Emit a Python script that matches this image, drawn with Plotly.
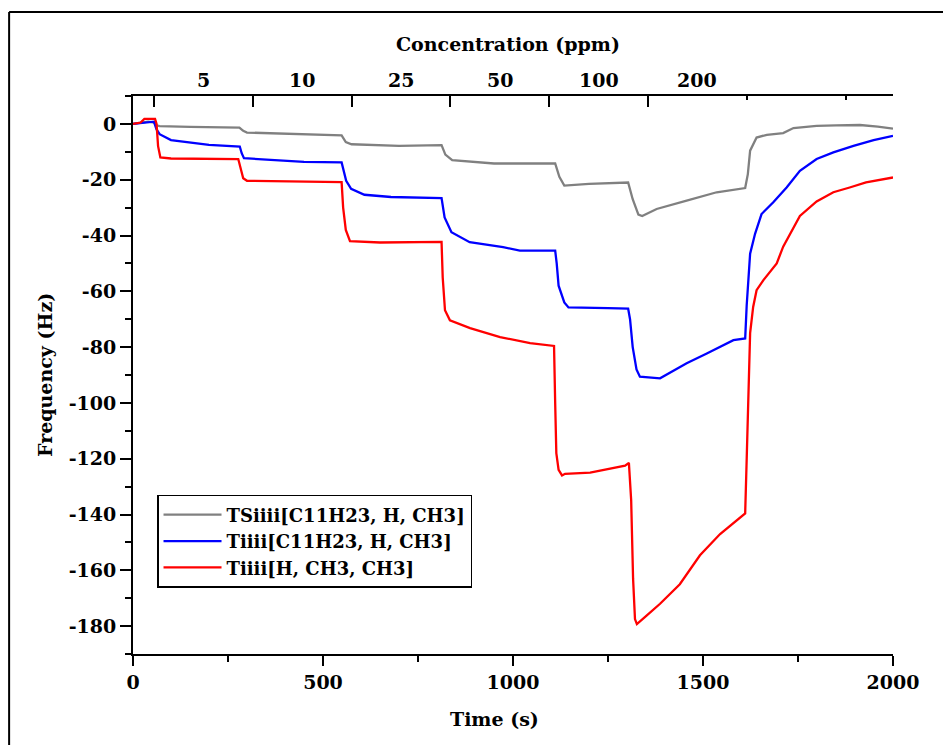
import plotly.graph_objects as go

# ---------------- data ----------------
gray_t = [0, 20, 40, 55, 62, 70, 150, 280, 290, 300, 400, 549, 560, 575, 700, 812, 822, 840, 950,
          1111, 1122, 1135, 1200, 1303, 1315, 1330, 1340, 1378, 1457, 1536, 1611, 1618, 1624, 1641,
          1668, 1711, 1738, 1799, 1850, 1913, 1960, 2000]
gray_y = [0, 0.3, 0.8, 0.5, -0.5, -0.8, -1.1, -1.3, -2.5, -3.1, -3.6, -4.1, -6.5, -7.3, -7.9, -7.6, -11, -13, -14.2,
          -14.2, -19, -22.1, -21.5, -21, -27, -32.5, -33, -30.5, -27.5, -24.5, -23, -18, -9.6, -4.9,
          -3.9, -3.3, -1.5, -0.7, -0.5, -0.4, -1.0, -1.7]

blue_t = [0, 30, 55, 62, 70, 100, 150, 200, 281, 286, 292, 387, 450, 549, 561, 574, 609, 679, 812, 820,
          838, 886, 974, 1018, 1111, 1115, 1120, 1135, 1146, 1250, 1303, 1308, 1315, 1325, 1334, 1387,
          1457, 1510, 1580, 1611, 1615, 1624, 1637, 1654, 1685, 1720, 1755, 1799, 1843, 1896, 1949, 2000]
blue_y = [0, 0.5, 0.8, -2, -3.7, -5.8, -6.7, -7.5, -8.1, -10.5, -12.3, -13.2, -13.6, -13.8, -20.4, -23.3, -25.4, -26.2, -26.6, -33.5,
          -38.8, -42.4, -44.2, -45.4, -45.4, -50, -58, -64, -65.8, -66, -66.2, -70, -80, -88, -90.6, -91.2,
          -85.8, -82.3, -77.5, -76.9, -65, -46.5, -39.4, -32.3, -28.1, -22.8, -16.8, -12.6, -10.2, -7.9, -5.8, -4.3]

red_t = [0, 20, 30, 58, 62, 66, 72, 100, 277, 283, 290, 300, 400, 549, 553, 560, 571, 650, 812, 815,
         821, 834, 887, 966, 1045, 1108, 1111, 1114, 1120, 1129, 1137, 1203, 1295, 1305, 1311, 1316,
         1321, 1326, 1347, 1387, 1439, 1492, 1545, 1597, 1611, 1615, 1620, 1624, 1632, 1641, 1659,
         1676, 1694, 1711, 1738, 1755, 1799, 1843, 1886, 1929, 2000]
red_y = [0, 0.5, 1.8, 1.8, 0, -8, -12, -12.4, -12.6, -16, -19.5, -20.4, -20.7, -20.9, -30, -38, -42, -42.5, -42.3, -55,
         -66.8, -70.4, -73.2, -76.4, -78.6, -79.6, -100, -118, -124, -126, -125.4, -125, -122.5, -121.5, -135, -163,
         -177.5, -179.3, -176.8, -172, -165, -154.6, -147, -141, -139.6, -120, -99, -75, -65.6, -59.6, -56,
         -53, -50, -44, -37, -33, -27.8, -24.5, -22.8, -21, -19.2]

series_names = ["TSiiii[C11H23, H, CH3]", "Tiiii[C11H23, H, CH3]", "Tiiii[H, CH3, CH3]"]
series_colors = ["#808080", "#0000FF", "#FF0000"]

conc_labels = ["5", "10", "25", "50", "100", "200"]
conc_bounds = [55, 315, 575, 835, 1095, 1355, 1615]
conc_extra_ticks = [1615, 1875]

y_tickvals = [0, -20, -40, -60, -80, -100, -120, -140, -160, -180]
y_ticktext = ["0", "-20", "-40", "-60", "-80", "-100", "-120", "-140", "-160", "-180"]

# ---------------- figure ----------------
FONT = "DejaVu Serif"
fig = go.Figure()
for t, y, name, col in zip([gray_t, blue_t, red_t], [gray_y, blue_y, red_y], series_names, series_colors):
    fig.add_trace(go.Scatter(x=t, y=y, mode="lines", name=name,
                             line=dict(color=col, width=2.3)))

# dummy trace to activate top axis
fig.add_trace(go.Scatter(x=conc_bounds, y=[None] * len(conc_bounds), xaxis="x2",
                         showlegend=False, hoverinfo="skip", mode="lines"))

tickfont = dict(family=FONT, size=19, color="black", weight="bold")

fig.update_layout(
    width=943, height=745,
    margin=dict(l=133, r=50, t=96, b=91),
    paper_bgcolor="white", plot_bgcolor="white",
    xaxis=dict(range=[0, 2000], dtick=500, tick0=0, ticks="outside", ticklen=10, tickwidth=2,
               tickcolor="black", showline=True, linewidth=2, linecolor="black",
               showgrid=False, zeroline=False, tickfont=tickfont, automargin=False,
               minor=dict(dtick=250, tick0=0, ticks="outside", ticklen=6, tickwidth=2, tickcolor="black")),
    xaxis2=dict(range=[0, 2000], overlaying="x", side="top", anchor="y",
                tickmode="array", tickvals=conc_bounds[:-1], ticktext=[""] * (len(conc_bounds) - 1),
                ticks="inside", ticklen=11, tickwidth=2, tickcolor="black",
                showline=True, linewidth=2, linecolor="black", showgrid=False, zeroline=False,
                automargin=False,
                minor=dict(tickmode="array", tickvals=conc_extra_ticks, ticks="inside", ticklen=4,
                           tickwidth=2, tickcolor="black")),
    yaxis=dict(range=[-190, 10], tickmode="array", tickvals=y_tickvals, ticktext=y_ticktext,
               ticks="outside", ticklen=11, tickwidth=2, tickcolor="black",
               showline=True, linewidth=2, linecolor="black", showgrid=False, zeroline=False,
               tickfont=tickfont, automargin=False,
               minor=dict(dtick=10, tick0=0, ticks="outside", ticklen=6, tickwidth=2, tickcolor="black")),
    legend=dict(x=0.0316, y=0.285, xanchor="left", yanchor="top",
                bordercolor="black", borderwidth=1.5, bgcolor="white",
                font=dict(family=FONT, size=18, color="black", weight="bold"),
                tracegroupgap=0, itemwidth=58),
    showlegend=True,
)

annots = []
for i, lab in enumerate(conc_labels):
    annots.append(dict(x=(conc_bounds[i] + conc_bounds[i + 1]) / 2, y=1.0287, xref="x", yref="paper",
                       text=lab, showarrow=False, xanchor="center", yanchor="middle",
                       font=tickfont))
annots.append(dict(x=0.4934, y=1.093, xref="paper", yref="paper", text="Concentration (ppm)",
                   showarrow=False, xanchor="center", yanchor="middle",
                   font=dict(family=FONT, size=19, color="black", weight="bold")))
annots.append(dict(x=0.476, y=-0.1165, xref="paper", yref="paper", text="Time (s)",
                   showarrow=False, xanchor="center", yanchor="middle",
                   font=dict(family=FONT, size=19, color="black", weight="bold")))
annots.append(dict(x=-0.1158, y=0.5, xref="paper", yref="paper", text="Frequency (Hz)", textangle=-90,
                   showarrow=False, xanchor="center", yanchor="middle",
                   font=dict(family=FONT, size=19, color="black", weight="bold")))
fig.update_layout(annotations=annots)

# outer frame (left and top edges visible)
fig.add_shape(type="line", xref="paper", yref="paper", x0=-0.163, x1=-0.163, y0=-0.2, y1=1.1505,
              line=dict(color="black", width=2))
fig.add_shape(type="line", xref="paper", yref="paper", x0=-0.163, x1=1.1, y0=1.1505, y1=1.1505,
              line=dict(color="black", width=2))

fig.write_html("out.html")
